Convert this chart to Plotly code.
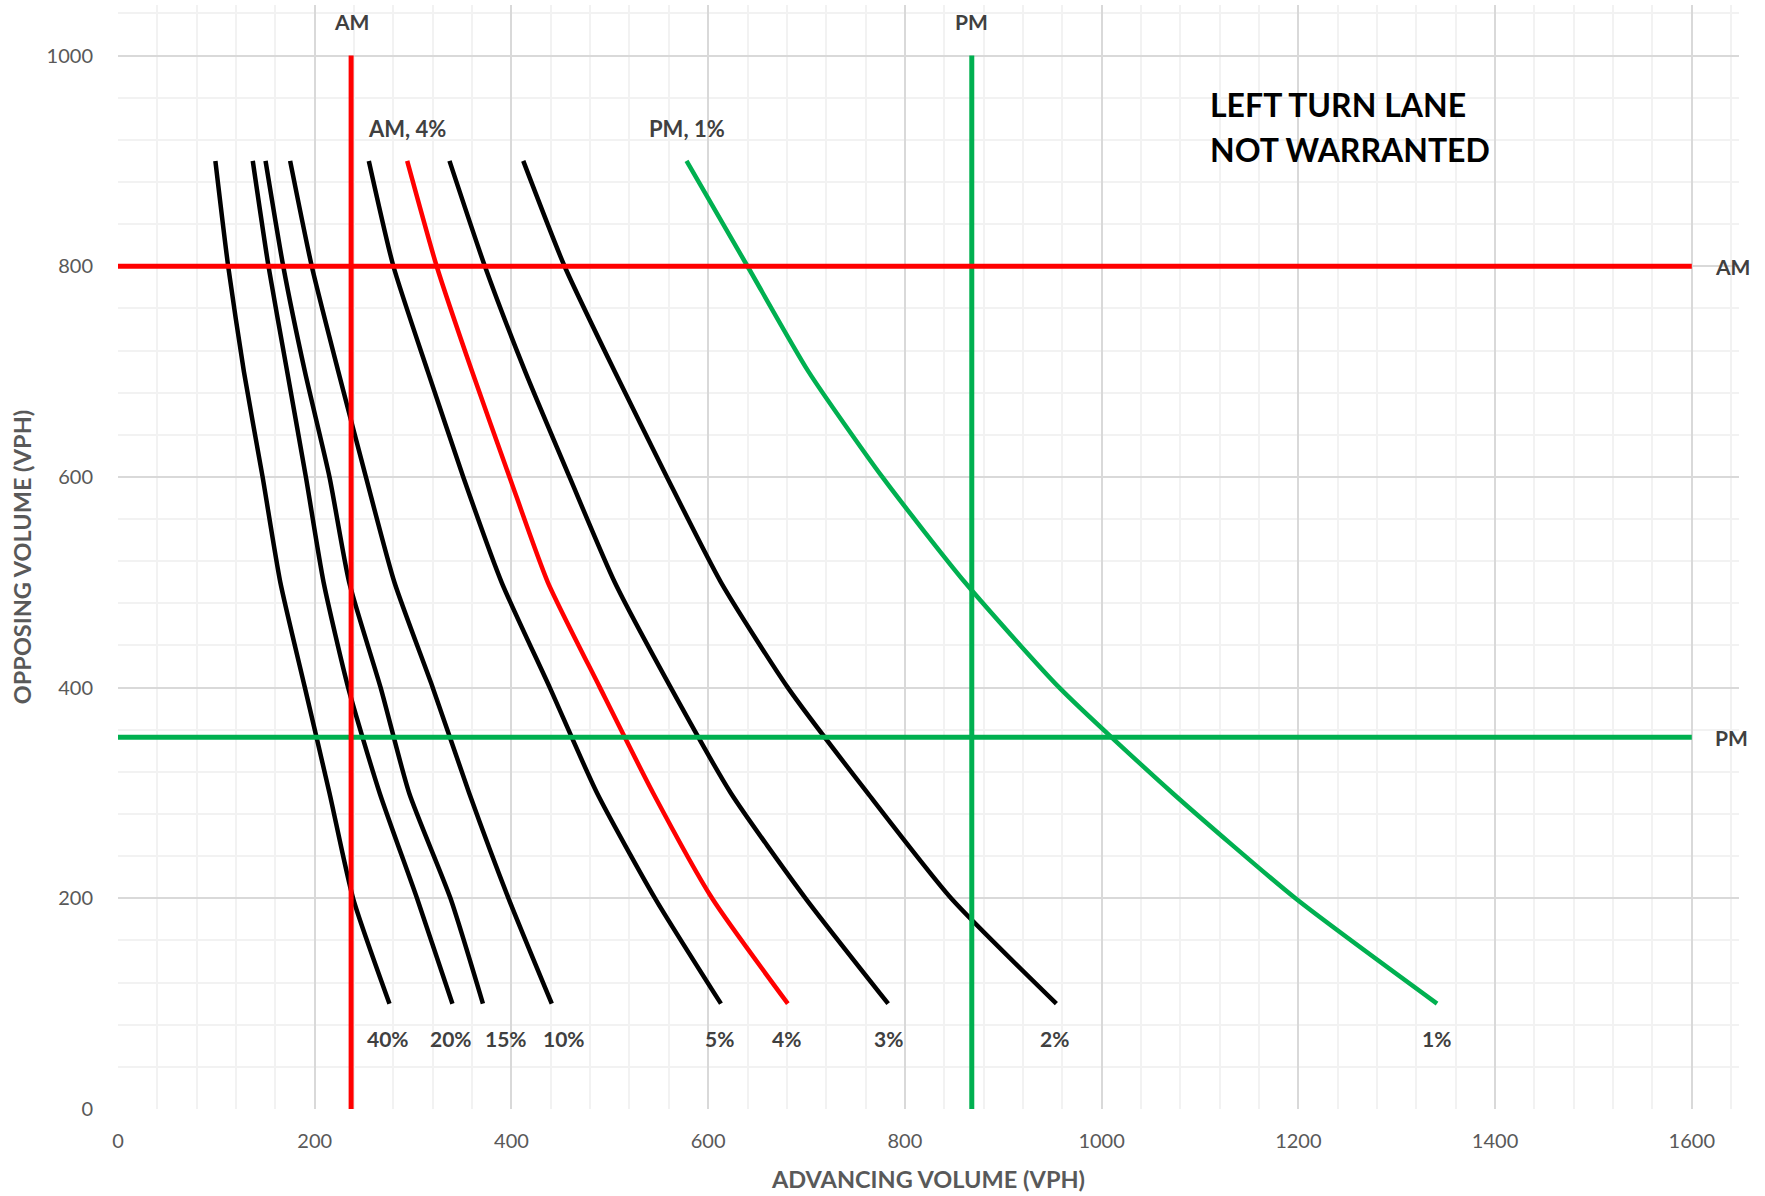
import plotly.graph_objects as go

# ---- data ----
opposing = [900, 800, 700, 600, 500, 400, 300, 200, 100]
curve_labels = ["40%", "20%", "15%", "10%", "5%", "4%", "3%", "2%", "1%"]
adv_40 = [99, 112, 128, 147, 165, 190, 215, 239, 276]
adv_20 = [137, 153, 172, 191, 209, 234, 266, 304, 340]
adv_15 = [150, 168, 190, 215, 235, 267, 296, 338, 371]
adv_10 = [175, 197, 224, 252, 281, 320, 357, 397, 441]
adv_5 = [255, 280, 315, 351, 390, 439, 487, 546, 613]
adv_4 = [294, 324, 360, 398, 437, 490, 544, 604, 681]
adv_3 = [337, 373, 414, 459, 505, 562, 623, 699, 783]
adv_2 = [412, 454, 505, 558, 613, 681, 762, 847, 954]
adv_1 = [578, 640, 702, 777, 861, 957, 1072, 1197, 1341]
curves = [adv_40, adv_20, adv_15, adv_10, adv_5, adv_4, adv_3, adv_2, adv_1]
curve_colors = ["#000000"] * 5 + ["#FF0000", "#000000", "#000000", "#00B050"]

# percent label positions (advancing volume) under curve ends
label_x = [275, 339, 394, 453, 612, 680, 783, 952, 1340]
label_y = 67

# design volumes
am_advancing = 237
pm_advancing = 868
am_opposing = 800
pm_opposing = 353
vline_y = [0, 1000]
hline_x = [0, 1600]

GRID_MAJOR = "#D9D9D9"
GRID_MINOR = "#F2F2F2"
FONT = "Lato"
TXT = "#595959"
LBL = "#404040"

fig = go.Figure()

for adv, col in zip(curves, curve_colors):
    fig.add_trace(go.Scatter(x=adv, y=opposing, mode="lines",
                             line=dict(color=col, width=4.5, shape="spline", smoothing=0.6),
                             hoverinfo="skip"))

# PM lines (green)
fig.add_trace(go.Scatter(x=[pm_advancing, pm_advancing], y=vline_y, mode="lines",
                         line=dict(color="#00B050", width=5)))
fig.add_trace(go.Scatter(x=hline_x, y=[pm_opposing, pm_opposing], mode="lines",
                         line=dict(color="#00B050", width=5)))
# AM lines (red)
fig.add_trace(go.Scatter(x=[am_advancing, am_advancing], y=vline_y, mode="lines",
                         line=dict(color="#FF0000", width=5)))
fig.add_trace(go.Scatter(x=hline_x, y=[am_opposing, am_opposing], mode="lines",
                         line=dict(color="#FF0000", width=5)))

ann = []
lab_font = dict(family=FONT, size=21, color=LBL)
for t, x in zip(curve_labels, label_x):
    ann.append(dict(x=x, y=label_y, text="<b>%s</b>" % t, showarrow=False,
                    xanchor="center", yanchor="middle", font=lab_font))
ann.append(dict(x=am_advancing, y=1032, text="<b>AM</b>", showarrow=False, font=lab_font))
ann.append(dict(x=pm_advancing, y=1032, text="<b>PM</b>", showarrow=False, font=lab_font))
ann.append(dict(x=1641, y=am_opposing, text="<b>AM</b>", showarrow=False, font=lab_font))
ann.append(dict(x=1640, y=pm_opposing, text="<b>PM</b>", showarrow=False, font=lab_font))
ann.append(dict(x=294, y=931, text="<b>AM, 4%</b>", showarrow=False,
                font=dict(family=FONT, size=22, color=LBL)))
ann.append(dict(x=578, y=931, text="<b>PM, 1%</b>", showarrow=False,
                font=dict(family=FONT, size=22, color=LBL)))
big = dict(family=FONT, size=32, color="#000000")
ann.append(dict(x=1108, y=954, text="<b>LEFT TURN LANE</b>", showarrow=False,
                xanchor="left", font=big))
ann.append(dict(x=1108, y=911, text="<b>NOT WARRANTED</b>", showarrow=False,
                xanchor="left", font=big))

fig.update_layout(
    width=1765, height=1196,
    margin=dict(l=118, r=26, t=5, b=87),
    paper_bgcolor="white", plot_bgcolor="white",
    showlegend=False,
    annotations=ann,
    font=dict(family=FONT, color=TXT),
)
fig.update_xaxes(
    range=[0, 1648], dtick=200, tick0=0, automargin=False,
    showgrid=True, gridcolor=GRID_MAJOR, gridwidth=1.5,
    minor=dict(dtick=40, showgrid=True, gridcolor=GRID_MINOR, gridwidth=1.5),
    zeroline=False, showline=False,
    ticks="outside", ticklen=14, tickcolor="rgba(0,0,0,0)",
    tickfont=dict(family=FONT, size=20, color=TXT),
    title=dict(text="<b>ADVANCING VOLUME (VPH)</b>", standoff=20,
               font=dict(family=FONT, size=23.5, color=TXT)),
)
fig.update_yaxes(
    range=[0, 1048], dtick=200, tick0=0, automargin=False,
    showgrid=True, gridcolor=GRID_MAJOR, gridwidth=1.5,
    minor=dict(dtick=40, showgrid=True, gridcolor=GRID_MINOR, gridwidth=1.5),
    zeroline=False, showline=False,
    ticks="outside", ticklen=20, tickcolor="rgba(0,0,0,0)",
    tickfont=dict(family=FONT, size=20, color=TXT),
    title=dict(text="<b>OPPOSING VOLUME (VPH)</b>", standoff=8,
               font=dict(family=FONT, size=23.5, color=TXT)),
)

fig.write_html("out.html", config={"displayModeBar": False},
               post_script="document.body.style.margin='0';")
